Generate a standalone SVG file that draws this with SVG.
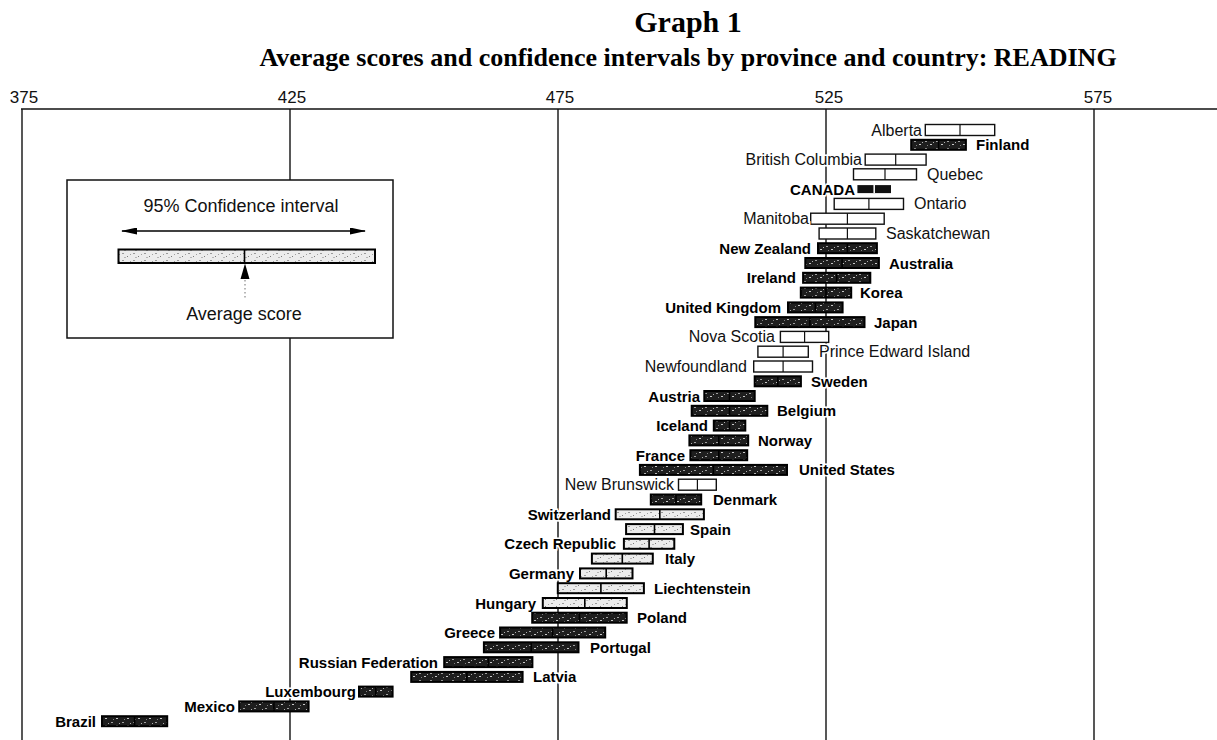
<svg xmlns="http://www.w3.org/2000/svg" width="1217" height="740" viewBox="0 0 1217 740">
<style>
  .title{font-family:"Liberation Serif","Times New Roman",serif;font-weight:bold;font-size:30px;fill:#000}
  .sub{font-family:"Liberation Serif","Times New Roman",serif;font-weight:bold;font-size:26px;fill:#000}
  .ax{font-family:"Liberation Sans",Arial,sans-serif;font-size:17px;fill:#111}
  .lp{font-family:"Liberation Sans",Arial,sans-serif;font-size:16px;fill:#111;stroke:#fff;stroke-width:3;paint-order:stroke}
  .lc{font-family:"Liberation Sans",Arial,sans-serif;font-size:15px;font-weight:bold;fill:#000;stroke:#fff;stroke-width:3;paint-order:stroke}
  .lg{font-family:"Liberation Sans",Arial,sans-serif;font-size:18px;fill:#111}
  .grid line{stroke:#111;stroke-width:1.4}
  .prov{fill:#fff;stroke:#111;stroke-width:1.4}
  .dk{fill:url(#pd);stroke:#000;stroke-width:2}
  .lt{fill:url(#pl);stroke:#000;stroke-width:2}
  .dv{stroke:#000;stroke-width:1.6}
  .dvp{stroke:#111;stroke-width:1.2}
  .node text.r{text-anchor:start}
  .node text.l{text-anchor:end}
</style>
<defs>
  <pattern id="pd" patternUnits="userSpaceOnUse" width="11" height="7">
    <rect width="11" height="7" fill="#1e1e1e"/>
    <rect x="1" y="1" width="2" height="1" fill="#a0a0a0"/>
    <rect x="6" y="4" width="2" height="1" fill="#c8c8c8"/>
    <rect x="3" y="5" width="1" height="1" fill="#808080"/>
    <rect x="9" y="2" width="1" height="1" fill="#b0b0b0"/>
  </pattern>
  <pattern id="pl" patternUnits="userSpaceOnUse" width="11" height="7">
    <rect width="11" height="7" fill="#ececec"/>
    <rect x="1" y="1" width="2" height="1" fill="#9a9a9a"/>
    <rect x="6" y="4" width="1" height="1" fill="#7a7a7a"/>
    <rect x="3" y="5" width="2" height="1" fill="#b5b5b5"/>
    <rect x="9" y="2" width="1" height="1" fill="#a0a0a0"/>
  </pattern>
  <marker id="ah" viewBox="0 0 16 7" refX="15" refY="3.5" markerWidth="16" markerHeight="7" markerUnits="userSpaceOnUse" orient="auto-start-reverse">
    <path d="M0,0 L16,3.5 L0,7 Z" fill="#000"/>
  </marker>
</defs>
<rect width="1217" height="740" fill="#fff"/>

<g id="title">
  <text class="title" x="688" y="32" text-anchor="middle">Graph 1</text>
  <text class="sub" x="688" y="66" text-anchor="middle">Average scores and confidence intervals by province and country: READING</text>
</g>

<g id="axis">
  <text class="ax" x="24" y="103" text-anchor="middle">375</text>
  <text class="ax" x="292" y="103" text-anchor="middle">425</text>
  <text class="ax" x="560" y="103" text-anchor="middle">475</text>
  <text class="ax" x="829" y="103" text-anchor="middle">525</text>
  <text class="ax" x="1098" y="103" text-anchor="middle">575</text>
</g>

<g id="connectors" class="grid">
  <line x1="21" y1="109" x2="1217" y2="109"/>
  <line x1="22" y1="109" x2="22" y2="740"/>
  <line x1="290" y1="109" x2="290" y2="740"/>
  <line x1="558" y1="109" x2="558" y2="740"/>
  <line x1="826" y1="109" x2="826" y2="740"/>
  <line x1="1094" y1="109" x2="1094" y2="740"/>
</g>

<g id="legend">
  <rect x="67" y="180" width="326" height="158" fill="#fff" stroke="#111" stroke-width="1.5"/>
  <text class="lg" x="241" y="212" text-anchor="middle">95% Confidence interval</text>
  <line x1="122" y1="231" x2="365" y2="231" stroke="#000" stroke-width="1.6" marker-start="url(#ah)" marker-end="url(#ah)"/>
  <rect class="lt" x="118.5" y="249.5" width="256.5" height="13.5" stroke-width="2.2"/>
  <line class="dv" x1="244.5" y1="249.5" x2="244.5" y2="263"/>
  <polygon points="245,263.5 240.5,279 249.5,279" fill="#000"/>
  <line x1="245" y1="280" x2="245" y2="300" stroke="#888" stroke-width="1.2" stroke-dasharray="1.5 2.5"/>
  <text class="lg" x="244" y="320" text-anchor="middle">Average score</text>
</g>

<g id="n-alberta" class="node"><rect class="prov" x="925.3" y="124.5" width="69.4" height="11"/><line class="dvp" x1="960" y1="124.5" x2="960" y2="135.5"/><text class="lp l" x="922" y="135.5">Alberta</text></g>
<g id="n-finland" class="node"><rect class="dk" x="911.2" y="139.8" width="54.7" height="10"/><line class="dv" x1="938.6" y1="139.8" x2="938.6" y2="149.8"/><text class="lc r" x="976" y="150.3">Finland</text></g>
<g id="n-british-columbia" class="node"><rect class="prov" x="865.2" y="154.1" width="60.9" height="11"/><line class="dvp" x1="895.7" y1="154.1" x2="895.7" y2="165.1"/><text class="lp l" x="862" y="165.1">British Columbia</text></g>
<g id="n-quebec" class="node"><rect class="prov" x="853.5" y="168.8" width="63" height="11"/><line class="dvp" x1="885" y1="168.8" x2="885" y2="179.8"/><text class="lp r" x="927" y="179.8">Quebec</text></g>
<g id="n-canada" class="node"><rect x="857.4" y="185.1" width="33.6" height="8" fill="#111"/><line x1="874.2" y1="185.1" x2="874.2" y2="193.1" stroke="#fff" stroke-width="1.5"/><text class="lc l" x="855" y="194.6">CANADA</text></g>
<g id="n-ontario" class="node"><rect class="prov" x="834.2" y="198.4" width="69.3" height="11"/><line class="dvp" x1="868.9" y1="198.4" x2="868.9" y2="209.4"/><text class="lp r" x="914" y="209.4">Ontario</text></g>
<g id="n-manitoba" class="node"><rect class="prov" x="810.7" y="213.2" width="73.5" height="11"/><line class="dvp" x1="847.4" y1="213.2" x2="847.4" y2="224.2"/><text class="lp l" x="809" y="224.2">Manitoba</text></g>
<g id="n-saskatchewan" class="node"><rect class="prov" x="819.1" y="228" width="56.7" height="11"/><line class="dvp" x1="847.4" y1="228" x2="847.4" y2="239"/><text class="lp r" x="886" y="239">Saskatchewan</text></g>
<g id="n-new-zealand" class="node"><rect class="dk" x="818" y="243.2" width="58.9" height="10"/><line class="dv" x1="847.4" y1="243.2" x2="847.4" y2="253.2"/><text class="lc l" x="811" y="253.7">New Zealand</text></g>
<g id="n-australia" class="node"><rect class="dk" x="805.3" y="258" width="73.6" height="10"/><line class="dv" x1="842.1" y1="258" x2="842.1" y2="268"/><text class="lc r" x="889" y="268.5">Australia</text></g>
<g id="n-ireland" class="node"><rect class="dk" x="803.1" y="272.8" width="67.2" height="10"/><line class="dv" x1="836.7" y1="272.8" x2="836.7" y2="282.8"/><text class="lc l" x="796" y="283.3">Ireland</text></g>
<g id="n-korea" class="node"><rect class="dk" x="800.8" y="287.6" width="50.4" height="10"/><line class="dv" x1="826" y1="287.6" x2="826" y2="297.6"/><text class="lc r" x="860" y="298.1">Korea</text></g>
<g id="n-united-kingdom" class="node"><rect class="dk" x="788" y="302.4" width="54.6" height="10"/><line class="dv" x1="815.3" y1="302.4" x2="815.3" y2="312.4"/><text class="lc l" x="781" y="312.9">United Kingdom</text></g>
<g id="n-japan" class="node"><rect class="dk" x="755.3" y="317.1" width="109.2" height="10"/><line class="dv" x1="809.9" y1="317.1" x2="809.9" y2="327.1"/><text class="lc r" x="874" y="327.6">Japan</text></g>
<g id="n-nova-scotia" class="node"><rect class="prov" x="780.4" y="331.4" width="48.3" height="11"/><line class="dvp" x1="804.6" y1="331.4" x2="804.6" y2="342.4"/><text class="lp l" x="775" y="342.4">Nova Scotia</text></g>
<g id="n-pei" class="node"><rect class="prov" x="757.9" y="346.2" width="50.4" height="11"/><line class="dvp" x1="783.1" y1="346.2" x2="783.1" y2="357.2"/><text class="lp r" x="819" y="357.2">Prince Edward Island</text></g>
<g id="n-newfoundland" class="node"><rect class="prov" x="753.7" y="361" width="58.8" height="11"/><line class="dvp" x1="783.1" y1="361" x2="783.1" y2="372"/><text class="lp l" x="747" y="372">Newfoundland</text></g>
<g id="n-sweden" class="node"><rect class="dk" x="754.7" y="376.3" width="46.2" height="10"/><line class="dv" x1="777.8" y1="376.3" x2="777.8" y2="386.3"/><text class="lc r" x="811" y="386.8">Sweden</text></g>
<g id="n-austria" class="node"><rect class="dk" x="704.3" y="391" width="50.4" height="10"/><line class="dv" x1="729.5" y1="391" x2="729.5" y2="401"/><text class="lc l" x="700" y="401.5">Austria</text></g>
<g id="n-belgium" class="node"><rect class="dk" x="691.7" y="405.8" width="75.6" height="10"/><line class="dv" x1="729.5" y1="405.8" x2="729.5" y2="415.8"/><text class="lc r" x="777" y="416.3">Belgium</text></g>
<g id="n-iceland" class="node"><rect class="dk" x="713.8" y="420.6" width="31.5" height="10"/><line class="dv" x1="729.5" y1="420.6" x2="729.5" y2="430.6"/><text class="lc l" x="708" y="431.1">Iceland</text></g>
<g id="n-norway" class="node"><rect class="dk" x="689.4" y="435.4" width="58.8" height="10"/><line class="dv" x1="718.8" y1="435.4" x2="718.8" y2="445.4"/><text class="lc r" x="758" y="445.9">Norway</text></g>
<g id="n-france" class="node"><rect class="dk" x="690.4" y="450.2" width="56.8" height="10"/><line class="dv" x1="718.8" y1="450.2" x2="718.8" y2="460.2"/><text class="lc l" x="685" y="460.7">France</text></g>
<g id="n-united-states" class="node"><rect class="dk" x="639.9" y="464.9" width="147.1" height="10"/><line class="dv" x1="713.4" y1="464.9" x2="713.4" y2="474.9"/><text class="lc r" x="799" y="475.4">United States</text></g>
<g id="n-new-brunswick" class="node"><rect class="prov" x="678.5" y="479.2" width="37.8" height="11"/><line class="dvp" x1="697.4" y1="479.2" x2="697.4" y2="490.2"/><text class="lp l" x="674" y="490.2">New Brunswick</text></g>
<g id="n-denmark" class="node"><rect class="dk" x="650.8" y="494.5" width="50.4" height="10"/><line class="dv" x1="676" y1="494.5" x2="676" y2="504.5"/><text class="lc r" x="713" y="505">Denmark</text></g>
<g id="n-switzerland" class="node"><rect class="lt" x="615.7" y="509.3" width="88.2" height="10"/><line class="dv" x1="659.8" y1="509.3" x2="659.8" y2="519.3"/><text class="lc l" x="611" y="519.8">Switzerland</text></g>
<g id="n-spain" class="node"><rect class="lt" x="626.1" y="524.1" width="56.8" height="10"/><line class="dv" x1="654.5" y1="524.1" x2="654.5" y2="534.1"/><text class="lc r" x="690" y="534.6">Spain</text></g>
<g id="n-czech-republic" class="node"><rect class="lt" x="623.9" y="538.8" width="50.4" height="10"/><line class="dv" x1="649.1" y1="538.8" x2="649.1" y2="548.8"/><text class="lc l" x="616" y="549.3">Czech Republic</text></g>
<g id="n-italy" class="node"><rect class="lt" x="591.9" y="553.6" width="60.9" height="10"/><line class="dv" x1="622.3" y1="553.6" x2="622.3" y2="563.6"/><text class="lc r" x="665" y="564.1">Italy</text></g>
<g id="n-germany" class="node"><rect class="lt" x="580" y="568.4" width="52.5" height="10"/><line class="dv" x1="606.2" y1="568.4" x2="606.2" y2="578.4"/><text class="lc l" x="574" y="578.9">Germany</text></g>
<g id="n-liechtenstein" class="node"><rect class="lt" x="557.8" y="583.2" width="86.1" height="10"/><line class="dv" x1="600.9" y1="583.2" x2="600.9" y2="593.2"/><text class="lc r" x="654" y="593.7">Liechtenstein</text></g>
<g id="n-hungary" class="node"><rect class="lt" x="542.8" y="598" width="84" height="10"/><line class="dv" x1="584.8" y1="598" x2="584.8" y2="608"/><text class="lc l" x="536" y="608.5">Hungary</text></g>
<g id="n-poland" class="node"><rect class="dk" x="532.2" y="612.7" width="94.5" height="10"/><line class="dv" x1="579.4" y1="612.7" x2="579.4" y2="622.7"/><text class="lc r" x="637" y="623.2">Poland</text></g>
<g id="n-greece" class="node"><rect class="dk" x="500.1" y="627.5" width="105.1" height="10"/><line class="dv" x1="552.6" y1="627.5" x2="552.6" y2="637.5"/><text class="lc l" x="495" y="638">Greece</text></g>
<g id="n-portugal" class="node"><rect class="dk" x="483.9" y="642.3" width="94.6" height="10"/><line class="dv" x1="531.2" y1="642.3" x2="531.2" y2="652.3"/><text class="lc r" x="590" y="652.8">Portugal</text></g>
<g id="n-russian-federation" class="node"><rect class="dk" x="444.2" y="657.1" width="88.2" height="10"/><line class="dv" x1="488.3" y1="657.1" x2="488.3" y2="667.1"/><text class="lc l" x="438" y="667.6">Russian Federation</text></g>
<g id="n-latvia" class="node"><rect class="dk" x="411.2" y="671.9" width="111.4" height="10"/><line class="dv" x1="466.9" y1="671.9" x2="466.9" y2="681.9"/><text class="lc r" x="533" y="682.4">Latvia</text></g>
<g id="n-luxembourg" class="node"><rect class="dk" x="359" y="686.6" width="33.6" height="10"/><line class="dv" x1="375.8" y1="686.6" x2="375.8" y2="696.6"/><text class="lc l" x="356" y="697.1">Luxembourg</text></g>
<g id="n-mexico" class="node"><rect class="dk" x="239.2" y="701.4" width="69.4" height="10"/><line class="dv" x1="273.9" y1="701.4" x2="273.9" y2="711.4"/><text class="lc l" x="235" y="711.9">Mexico</text></g>
<g id="n-brazil" class="node"><rect class="dk" x="102" y="716.2" width="65.2" height="10"/><line class="dv" x1="134.6" y1="716.2" x2="134.6" y2="726.2"/><text class="lc l" x="96" y="726.7">Brazil</text></g>
</svg>
